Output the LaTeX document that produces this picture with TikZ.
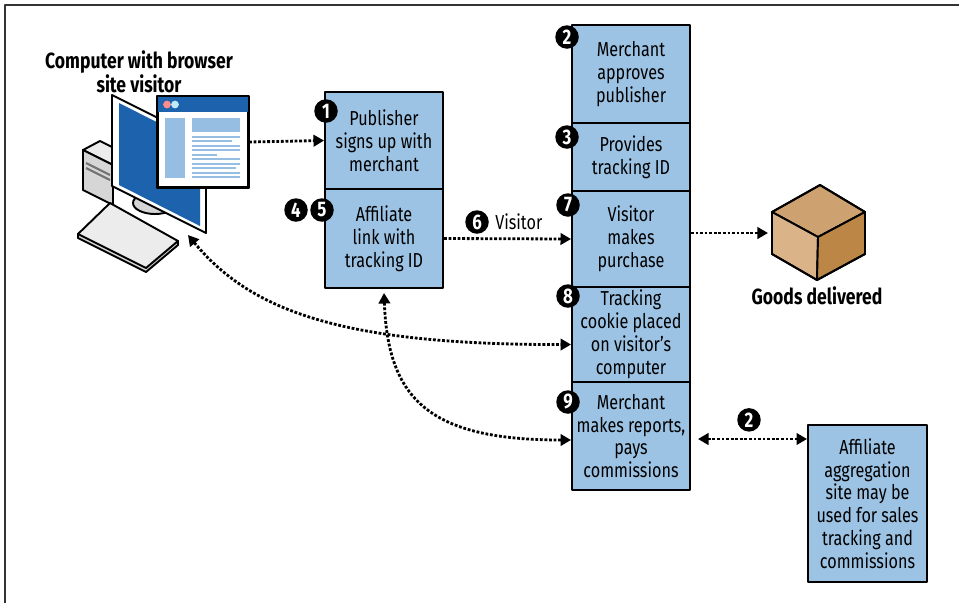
\documentclass[tikz,border=0pt]{standalone}
\usepackage{fontspec}
\setmainfont{Fira Sans}[FakeStretch=0.8]
\usetikzlibrary{arrows.meta,positioning}

\definecolor{boxblue}{RGB}{157,195,228}
\definecolor{screenblue}{RGB}{28,98,172}
\definecolor{pagelight}{RGB}{150,190,226}
\definecolor{casegrey}{RGB}{214,214,214}
\definecolor{keygrey}{RGB}{236,236,236}
\definecolor{cubetop}{RGB}{205,162,112}
\definecolor{cubeleft}{RGB}{218,180,136}
\definecolor{cuberight}{RGB}{188,134,70}

\tikzset{
  flowbox/.style={draw=black, line width=1.1pt, fill=boxblue, align=center,
    minimum width=2.36cm, inner sep=1pt, font=\fontsize{11.5}{13}\selectfont},
  badge/.style={circle, fill=black, text=white, inner sep=0pt, minimum size=0.47cm,
    font=\fontsize{12}{12}\selectfont\bfseries},
  caption/.style={align=center, font=\fontsize{12.5}{12.5}\selectfont\bfseries},
  flow/.style={line width=1.6pt, densely dotted, -{Triangle[length=6pt,width=6.5pt]}},
  twoway/.style={line width=1.6pt, densely dotted,
    {Triangle[length=6pt,width=6.5pt]}-{Triangle[length=6pt,width=6.5pt]}},
}

\begin{document}
\begin{tikzpicture}[x=0.02cm, y=-0.02cm, line join=round]

\useasboundingbox (0,0) rectangle (959,603);

% frame
\draw[line width=1.2pt, black!80] (5,603) -- (5,5) -- (959,5);

% Computer: tower, stand, keyboard, monitor
\filldraw[fill=keygrey, line width=1.1pt] (83,150) -- (100,141) -- (130,156) -- (113,165) -- cycle;
\filldraw[fill=casegrey, line width=1.1pt] (83,150) -- (113,165) -- (113,205) -- (83,190) -- cycle;
\draw[black!55, line width=1.2pt] (86,163) -- (110,175) (86,168) -- (110,180);
\filldraw[fill=casegrey, line width=1.1pt] (155,203) ellipse [x radius=0.44cm, y radius=0.22cm];
\filldraw[fill=casegrey, line width=1.1pt] (78,234) -- (78,238) -- (146,272) -- (178,245) -- (178,241) -- cycle;
\filldraw[fill=keygrey, line width=1.1pt] (78,234) -- (110,203) -- (178,241) -- (146,268) -- cycle;
\filldraw[fill=white, line width=1.1pt] (112,95) -- (206,142) -- (206,233) -- (112,186) -- cycle;
\fill[screenblue] (119,103) -- (200,144) -- (200,226) -- (119,185) -- cycle;
\coordinate (pc) at (188,235);

% Browser window
\node[draw, fill=white, line width=1.1pt, minimum width=1.8cm, minimum height=1.8cm,
  inner sep=0pt] (browser) at (203,142) {};
\fill[screenblue] (158,97) rectangle (248,112);
\fill[red!45] (167,104.5) circle (2.2pt);
\fill[cyan!25] (175,104.5) circle (2.2pt);
\fill[pagelight] (165,118) rectangle (185,178);
\fill[pagelight] (192,118) rectangle (240,132);
\foreach \y/\e in {137/240, 141/232, 146/240, 150/240, 155/217,
                   159/240, 164/240, 168/236, 173/240, 177/240} {
  \draw[pagelight, line width=1.2pt] (192,\y) -- (\e,\y);
}
\draw[line width=1.1pt] (browser.north west) rectangle (browser.south east);

\node[caption] (visitor) at (139,72) {Computer with browser\\site visitor};

% Publisher column
\node[flowbox, minimum height=1.94cm] (publisher) at (384,140.5) {Publisher\\signs up with\\merchant};
\node[flowbox, minimum height=1.98cm] (afflink) at (384,238.5) {Affiliate\\link with\\tracking ID};

% Merchant column
\node[flowbox, minimum height=1.96cm] (approves) at (631,74) {Merchant\\approves\\publisher};
\node[flowbox, minimum height=1.36cm] (provides) at (631,157) {Provides\\tracking ID};
\node[flowbox, minimum height=1.92cm] (purchase) at (631,239) {Visitor\\makes\\purchase};
\node[flowbox, minimum height=1.90cm] (cookie) at (631,334.5) {Tracking\\cookie placed\\on visitor’s\\computer};
\node[flowbox, minimum height=2.16cm] (reports) at (631,436) {Merchant\\makes reports,\\pays\\commissions};

% Aggregation site
\node[flowbox, minimum width=2.38cm, minimum height=3.14cm] (aggregation) at (867.5,503.5)
  {Affiliate\\aggregation\\site may be\\used for sales\\tracking and\\commissions};

% Goods
\filldraw[fill=cubetop, line width=1.1pt] (820,185) -- (772,212) -- (818,237) -- (865,212) -- cycle;
\filldraw[fill=cubeleft, line width=1.1pt] (772,212) -- (818,237) -- (817,280) -- (772,254) -- cycle;
\filldraw[fill=cuberight, line width=1.1pt] (818,237) -- (865,212) -- (865,254) -- (817,280) -- cycle;
\draw[line width=1.1pt] (820,185) -- (772,212) -- (772,254) -- (817,280) -- (865,254) -- (865,212) -- cycle;
\coordinate (cube) at (768,233);
\node[caption] (goods) at (817,296) {Goods delivered};

% Step numbers
\foreach \n/\x/\y in {1/326/111, 4/296/210, 5/322/210, 2/567/37, 3/567/137,
                      7/568/205, 8/568/296, 9/568/402} {
  \node[badge] (step\n) at (\x,\y) {\n};
}
\node[badge] (step6) at (477,222) {6};
\node[right=0pt of step6, font=\fontsize{11.5}{13}\selectfont] (visitlabel) {Visitor};

% Connectors
\draw[flow] (browser.east) -- (publisher.west);
\draw[flow] (afflink.east) -- (purchase.west);
\draw[flow] (purchase.east |- cube) -- (cube);
\draw[twoway] (pc) .. controls (250,310) and (340,345) .. ([yshift=-0.2cm]cookie.west);
\draw[twoway] ([yshift=-0.08cm]afflink.south) .. controls (388,400) and (430,440) .. ([yshift=-0.08cm]reports.west);
\draw[twoway, shorten <=0.14cm] ([yshift=-0.06cm]reports.east) -- ([yshift=-0.06cm]reports.east -| aggregation.west)
  node[badge, midway, above=0.12cm] (step2b) {2};

\end{tikzpicture}
\end{document}
